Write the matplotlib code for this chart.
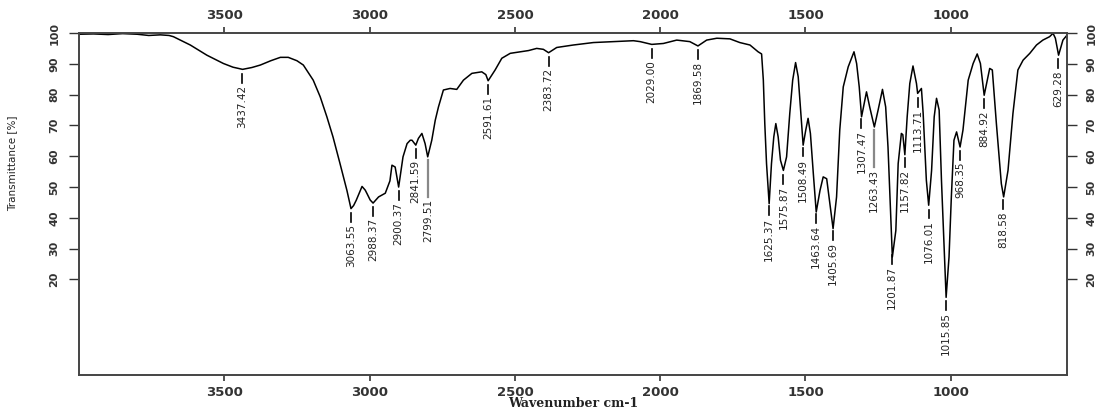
import numpy as np
import matplotlib
matplotlib.use("Agg")
from matplotlib import pyplot as plt

# spectrum (wavenumber cm-1, transmittance %)
wn = [4000, 3950, 3900, 3850, 3800, 3760, 3720, 3690, 3675, 3617, 3560, 3503,
      3470, 3437, 3405, 3376, 3340, 3307, 3280, 3250, 3228, 3194, 3170, 3147,
      3126, 3102, 3078, 3064, 3055, 3046, 3026, 3015, 3009, 2998, 2988, 2969,
      2946, 2930, 2923, 2912, 2900, 2885, 2871, 2860, 2854, 2841, 2832, 2820,
      2809, 2800, 2786, 2774, 2763, 2746, 2723, 2700, 2677, 2648, 2614, 2600,
      2592, 2568, 2545, 2516, 2482, 2453, 2425, 2402, 2384, 2356, 2299, 2230,
      2161, 2092, 2069, 2029, 1989, 1943, 1898, 1870, 1840, 1805, 1760, 1726,
      1691, 1663, 1651, 1645, 1640, 1634, 1625, 1617, 1609, 1602, 1594, 1586,
      1576, 1565, 1554, 1544, 1534, 1525, 1516, 1508, 1499, 1491, 1483, 1473,
      1463, 1450, 1439, 1427, 1416, 1405, 1393, 1382, 1370, 1353, 1333, 1324,
      1315, 1307, 1299, 1290, 1279, 1263, 1250, 1235, 1224, 1216, 1207, 1201,
      1189, 1181, 1170, 1165, 1158, 1150, 1141, 1130, 1118, 1114, 1101, 1095,
      1084, 1076, 1066, 1057, 1049, 1040, 1032, 1023, 1016, 1006, 998, 989,
      980, 968, 958, 940, 923, 909, 898, 885, 866, 857, 843, 826,
      818, 803, 786, 769, 751, 728, 705, 683, 660, 648, 640, 629,
      614, 600]
trans = [99.6, 99.7, 99.5, 99.8, 99.6, 99.2, 99.4, 99.2, 98.8, 96.1, 92.8, 90.1,
         88.9, 88.2, 88.8, 89.6, 91.0, 92.1, 92.1, 91.0, 89.6, 84.7, 79.3, 72.8,
         66.3, 57.7, 48.9, 43.0, 44.0, 45.7, 50.2, 49.0, 47.9, 45.8, 44.8, 46.8,
         48.0, 52.0, 57.1, 56.5, 50.0, 59.8, 64.1, 65.2, 65.2, 63.6, 65.8, 67.4,
         64.1, 59.8, 65.2, 71.7, 76.0, 81.5, 82.0, 81.7, 84.7, 86.9, 87.4, 86.5,
         84.5, 88.0, 91.8, 93.4, 93.9, 94.3, 95.0, 94.7, 93.6, 95.3, 96.1, 96.9,
         97.2, 97.5, 97.2, 96.3, 96.6, 97.7, 97.2, 95.8, 97.7, 98.3, 98.1, 96.9,
         96.1, 93.9, 93.2, 84.7, 70.6, 57.6, 44.6, 57.6, 66.3, 70.6, 66.3, 58.7,
         55.4, 59.8, 73.9, 84.7, 90.4, 85.8, 73.9, 63.6, 68.5, 72.3, 67.4, 54.4,
         41.9, 48.9, 53.3, 52.7, 44.6, 36.5, 46.8, 68.5, 82.5, 89.0, 93.9, 90.1,
         82.5, 72.8, 76.6, 80.9, 76.0, 69.5, 75.0, 81.7, 76.0, 63.0, 41.4, 27.3,
         35.9, 57.6, 67.4, 67.0, 60.5, 72.8, 83.6, 89.3, 83.6, 80.4, 82.0, 73.9,
         52.2, 44.1, 55.4, 72.8, 78.8, 75.0, 52.2, 30.5, 14.2, 27.3, 46.8, 65.2,
         67.9, 63.0, 68.5, 84.7, 90.1, 93.2, 90.1, 79.8, 88.5, 88.0, 70.6, 51.1,
         46.8, 55.4, 73.9, 88.0, 91.2, 93.4, 96.1, 97.7, 98.8, 99.9, 98.3, 92.8,
         97.7, 99.3]

peaks = [3437.42, 3063.55, 2988.37, 2900.37, 2841.59, 2799.51, 2591.61, 2383.72,
         2029.00, 1869.58, 1625.37, 1575.87, 1508.49, 1463.64, 1405.69, 1307.47,
         1263.43, 1201.87, 1157.82, 1113.71, 1076.01, 1015.85, 968.35, 884.92,
         818.58, 629.28]
long_lead = [2799.51, 1263.43]

x_ticks = [3500, 3000, 2500, 2000, 1500, 1000]
y_ticks = [20, 30, 40, 50, 60, 70, 80, 90, 100]

fig = plt.figure(figsize=(11.09, 4.12), dpi=100)
ax = fig.add_axes([79 / 1109, 1 - 375 / 412, 988 / 1109, 342 / 412])

ax.plot(wn, trans, color="black", lw=1.1)
ax.set_xlim(4000, 600)
ax.set_ylim(-11, 100)

# peak labels
wn_r = np.array(wn[::-1], dtype=float)
tr_r = np.array(trans[::-1], dtype=float)
narrow = ["Liberation Sans Narrow", "DejaVu Sans"]
for p in peaks:
    t = np.interp(p, wn_r, tr_r)
    if p in long_lead:
        ax.plot([p, p], [t - 1.2, t - 13.2], color="#888888", lw=1.6)
        ty = t - 13.8
    else:
        ax.plot([p, p], [t - 1.4, t - 4.3], color="black", lw=1.2)
        ty = t - 5.0
    ax.text(p, ty, f"{p:.2f}", rotation=90, ha="center", va="top",
            fontsize=7.5, family=narrow, color="#222222")

ax.set_xticks(x_ticks)
ax.set_yticks(y_ticks)
ax.tick_params(axis="x", top=True, labeltop=True, length=4, width=1.2,
               pad=4, labelsize=9.5, colors="#333333")
ax.tick_params(axis="y", right=True, labelright=True, length=7, width=1.0,
               pad=7, labelsize=8, labelrotation=90, colors="#333333")
for lab in ax.get_xticklabels() + ax.get_yticklabels():
    lab.set_fontweight("bold")
for lab in ax.get_yticklabels():
    lab.set_va("center")

for s in ax.spines.values():
    s.set_color("#444444")
    s.set_linewidth(1.4)

ax.set_xlabel("Wavenumber cm-1", family="DejaVu Serif", fontsize=9,
              fontweight="bold", color="#222222")
ax.xaxis.set_label_coords(0.5, -0.064)
ax.set_ylabel("Transmittance [%]", fontsize=7.5, color="#222222")
ax.yaxis.set_label_coords(-0.063, 0.62)

fig.savefig("out.png", dpi=100)
